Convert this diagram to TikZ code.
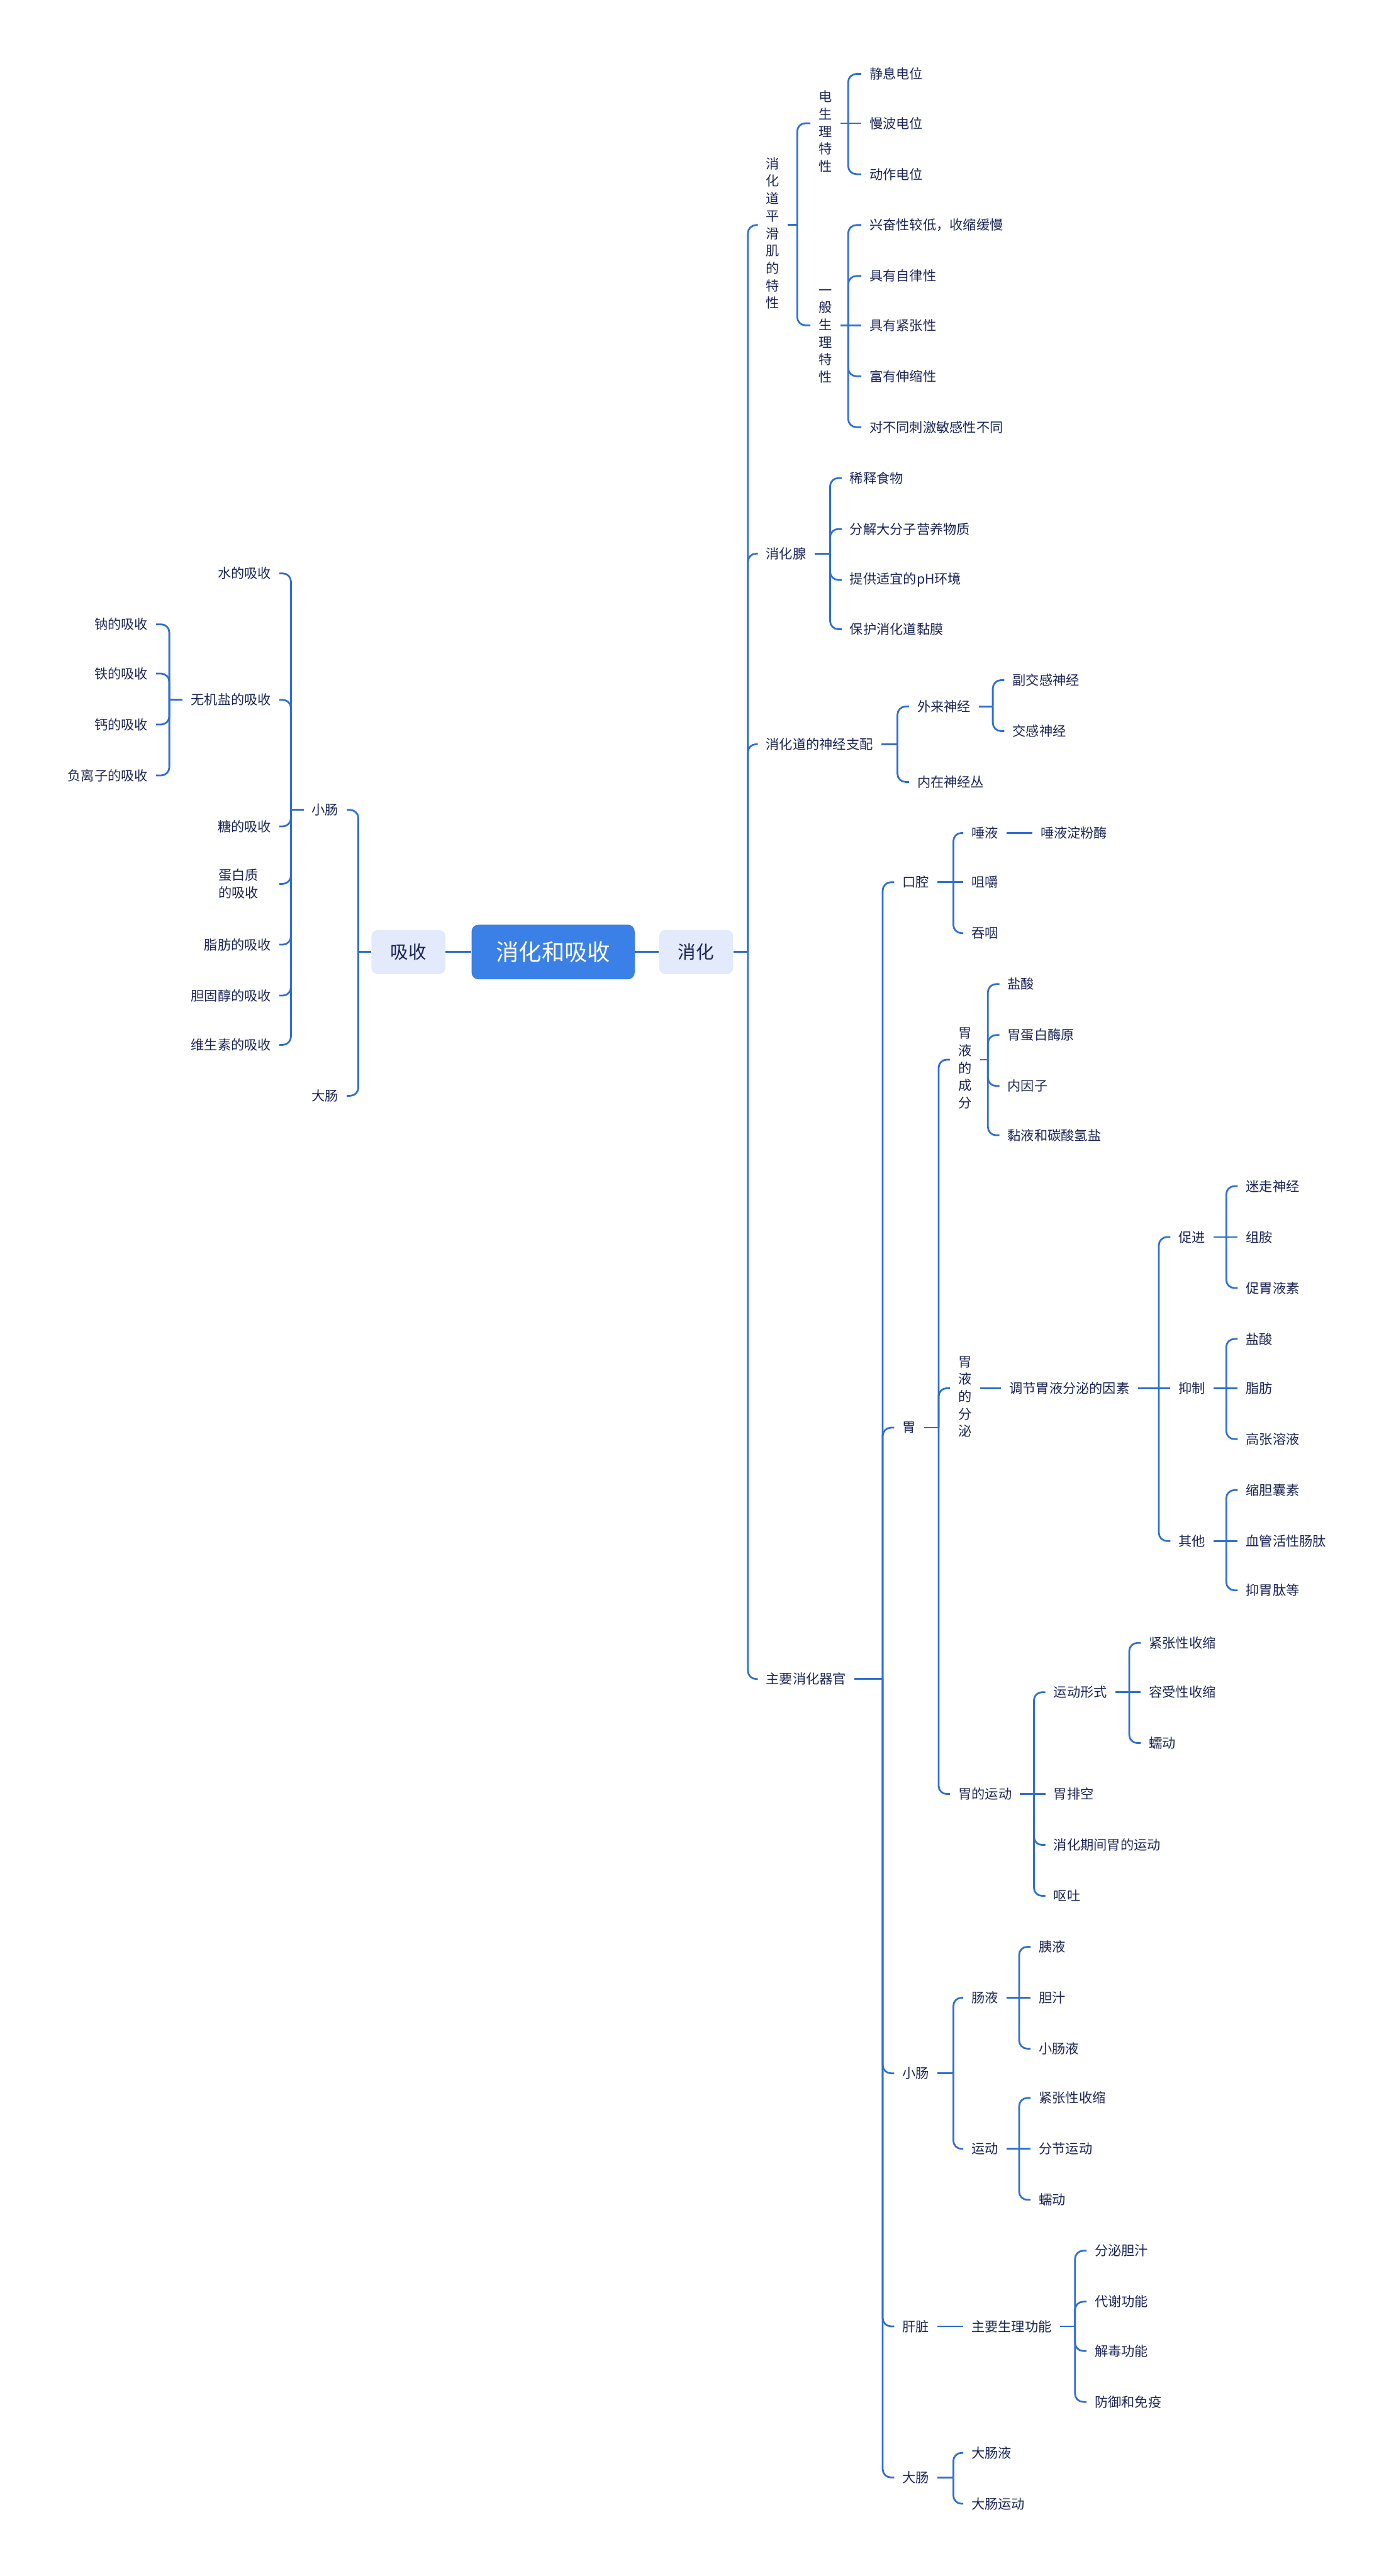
\documentclass[tikz,border=0pt]{standalone}
\usepackage{fontspec}
\setmainfont{Noto Sans CJK SC}
\definecolor{lineblue}{HTML}{2F6FD3}
\definecolor{inkblue}{HTML}{1A2456}
\definecolor{rootblue}{HTML}{3A80E6}
\definecolor{paleblue}{HTML}{E2EAFB}
\tikzset{
  branch/.style={draw=lineblue, line width=3.2pt, rounded corners=15pt},
  leaf/.style={font=\fontsize{24.5}{32}\selectfont, text=inkblue, inner xsep=15pt, inner ysep=4pt, anchor=west},
  leafl/.style={leaf, anchor=east},
  rootbox/.style={fill=rootblue, text=white, rounded corners=12pt, minimum width=299pt, minimum height=100pt, font=\fontsize{42}{50}\selectfont},
  topbox/.style={fill=paleblue, text=inkblue, rounded corners=12pt, minimum width=136pt, minimum height=81pt, font=\fontsize{33}{40}\selectfont},
}
% vertical text, set a little below its join
\newcommand{\vstack}[1]{\raisebox{-18pt}[\height][\depth]{\begin{tabular}{@{}c@{}}#1\end{tabular}}}
% fork to the right / to the left
\newcommand{\rfork}[3]{%
  \draw[branch] (#1.east) -- (#1.east -| #2,0) coordinate (j);
  \foreach \c in {#3} {\draw[branch] (j) |- (\c.west);}}
\newcommand{\lfork}[3]{%
  \draw[branch] (#1.west) -- (#1.west -| #2,0) coordinate (j);
  \foreach \c in {#3} {\draw[branch] (j) |- (\c.east);}}
\begin{document}
\begin{tikzpicture}[x=3.0153pt, y=-3.0147pt]
\useasboundingbox (0,0) rectangle (849,1568);

% centre
\node[rootbox] (root) at (336.5,579.5) {消化和吸收};
\node[topbox] (xh) at (423.5,579.5) {消化};
\node[topbox] (xs) at (248.5,579.5) {吸收};
\draw[branch] (xs) -- (root);
\draw[branch] (root) -- (xh);

% 消化
\node[leaf] (phj) at (461,137) {\vstack{消\\化\\道\\平\\滑\\肌\\的\\特\\性}};
\node[leaf] (xhx) at (461,337) {消化腺};
\node[leaf] (sjzp) at (461,453) {消化道的神经支配};
\node[leaf] (qg) at (461,1022) {主要消化器官};
\rfork{xh}{455}{phj,xhx,sjzp,qg}

% 平滑肌的特性
\node[leaf] (dsl) at (493,75) {\vstack{电\\生\\理\\特\\性}};
\node[leaf] (ybsl) at (493,198) {\vstack{一\\般\\生\\理\\特\\性}};
\rfork{phj}{485}{dsl,ybsl}
\foreach \y/\t [count=\i] in {45/静息电位,75/慢波电位,106/动作电位}
  \node[leaf] (dsl\i) at (524,\y) {\t};
\rfork{dsl}{516}{dsl1,dsl3}
\draw[branch] (dsl.east) -- (dsl2.west);
\foreach \y/\t [count=\i] in {137/兴奋性较低，收缩缓慢,168/具有自律性,198/具有紧张性,229/富有伸缩性,260/对不同刺激敏感性不同}
  \node[leaf] (yb\i) at (524,\y) {\t};
\rfork{ybsl}{516}{yb1,yb2,yb4,yb5}
\draw[branch] (ybsl.east) -- (yb3.west);

% 消化腺
\foreach \y/\t [count=\i] in {291/稀释食物,322/分解大分子营养物质,353/提供适宜的pH环境,383/保护消化道黏膜}
  \node[leaf] (xx\i) at (512,\y) {\t};
\rfork{xhx}{505}{xx1,xx2,xx3,xx4}

% 神经支配
\node[leaf] (wl) at (553,430) {外来神经};
\node[leaf] (nz) at (553,476) {内在神经丛};
\rfork{sjzp}{546}{wl,nz}
\node[leaf] (fjg) at (611,414) {副交感神经};
\node[leaf] (jg) at (611,445) {交感神经};
\rfork{wl}{604}{fjg,jg}

% 主要消化器官
\node[leaf] (kq) at (544,537) {口腔};
\node[leaf] (wei) at (544,869) {胃};
\node[leaf] (xc) at (544,1262) {小肠};
\node[leaf] (gz) at (544,1416) {肝脏};
\node[leaf] (dc) at (544,1508) {大肠};
\rfork{qg}{537}{kq,wei,xc,gz,dc}

% 口腔
\node[leaf] (ty) at (586,507) {唾液};
\node[leaf] (jj) at (586,537) {咀嚼};
\node[leaf] (ty2) at (586,568) {吞咽};
\rfork{kq}{580}{ty,ty2}
\draw[branch] (kq.east) -- (jj.west);
\node[leaf] (dfm) at (628,507) {唾液淀粉酶};
\draw[branch] (ty.east) -- (dfm.west);

% 胃
\node[leaf] (wycf) at (578,645) {\vstack{胃\\液\\的\\成\\分}};
\node[leaf] (wyfm) at (578,845) {\vstack{胃\\液\\的\\分\\泌}};
\node[leaf] (wyd) at (578,1092) {胃的运动};
\rfork{wei}{571}{wycf,wyfm,wyd}
\foreach \y/\t [count=\i] in {599/盐酸,630/胃蛋白酶原,661/内因子,691/黏液和碳酸氢盐}
  \node[leaf] (cf\i) at (608,\y) {\t};
\rfork{wycf}{601}{cf1,cf2,cf3,cf4}
\node[leaf] (tj) at (609,845) {调节胃液分泌的因素};
\draw[branch] (wyfm.east) -- (tj.west);
\node[leaf] (cj) at (712,753) {促进};
\node[leaf] (yz) at (712,845) {抑制};
\node[leaf] (qt) at (712,938) {其他};
\rfork{tj}{705}{cj,qt}
\draw[branch] (tj.east) -- (yz.west);
\foreach \y/\t [count=\i] in {722/迷走神经,753/组胺,784/促胃液素}
  \node[leaf] (cj\i) at (753,\y) {\t};
\rfork{cj}{746}{cj1,cj3}
\draw[branch] (cj.east) -- (cj2.west);
\foreach \y/\t [count=\i] in {815/盐酸,845/脂肪,876/高张溶液}
  \node[leaf] (yz\i) at (753,\y) {\t};
\rfork{yz}{746}{yz1,yz3}
\draw[branch] (yz.east) -- (yz2.west);
\foreach \y/\t [count=\i] in {907/缩胆囊素,938/血管活性肠肽,968/抑胃肽等}
  \node[leaf] (qt\i) at (753,\y) {\t};
\rfork{qt}{746}{qt1,qt3}
\draw[branch] (qt.east) -- (qt2.west);
\node[leaf] (ydxs) at (636,1030) {运动形式};
\node[leaf] (pk) at (636,1092) {胃排空};
\node[leaf] (xhq) at (636,1123) {消化期间胃的运动};
\node[leaf] (ot) at (636,1154) {呕吐};
\rfork{wyd}{629}{ydxs,xhq,ot}
\draw[branch] (wyd.east) -- (pk.west);
\foreach \y/\t [count=\i] in {1000/紧张性收缩,1030/容受性收缩,1061/蠕动}
  \node[leaf] (yx\i) at (694,\y) {\t};
\rfork{ydxs}{687}{yx1,yx3}
\draw[branch] (ydxs.east) -- (yx2.west);

% 小肠
\node[leaf] (cy) at (586,1216) {肠液};
\node[leaf] (yd) at (586,1308) {运动};
\rfork{xc}{580}{cy,yd}
\foreach \y/\t [count=\i] in {1185/胰液,1216/胆汁,1247/小肠液}
  \node[leaf] (cy\i) at (627,\y) {\t};
\rfork{cy}{620}{cy1,cy3}
\draw[branch] (cy.east) -- (cy2.west);
\foreach \y/\t [count=\i] in {1277/紧张性收缩,1308/分节运动,1339/蠕动}
  \node[leaf] (yd\i) at (627,\y) {\t};
\rfork{yd}{620}{yd1,yd3}
\draw[branch] (yd.east) -- (yd2.west);

% 肝脏
\node[leaf] (zygn) at (586,1416) {主要生理功能};
\draw[branch] (gz.east) -- (zygn.west);
\foreach \y/\t [count=\i] in {1370/分泌胆汁,1401/代谢功能,1431/解毒功能,1462/防御和免疫}
  \node[leaf] (gn\i) at (661,\y) {\t};
\rfork{zygn}{654}{gn1,gn2,gn3,gn4}

% 大肠
\node[leaf] (dc1) at (586,1493) {大肠液};
\node[leaf] (dc2) at (586,1524) {大肠运动};
\rfork{dc}{580}{dc1,dc2}

% 吸收
\node[leafl] (lxc) at (211,493) {小肠};
\node[leafl] (ldc) at (211,667) {大肠};
\lfork{xs}{218}{lxc,ldc}
\node[leafl] (sx) at (170,349) {水的吸收};
\node[leafl] (wjy) at (170,426) {无机盐的吸收};
\node[leafl] (tang) at (170,503) {糖的吸收};
\node[leafl, align=center, inner xsep=38pt] (dbz) at (170,538) {蛋白质\\的吸收};
\node[leafl] (zf) at (170,575) {脂肪的吸收};
\node[leafl] (dgc) at (170,606) {胆固醇的吸收};
\node[leafl] (wss) at (170,636) {维生素的吸收};
\lfork{lxc}{177}{sx,wjy,tang,dbz,zf,dgc,wss}
\foreach \y/\t [count=\i] in {380/钠的吸收,410/铁的吸收,441/钙的吸收,472/负离子的吸收}
  \node[leafl] (wj\i) at (95,\y) {\t};
\lfork{wjy}{103}{wj1,wj2,wj3,wj4}
\end{tikzpicture}
\end{document}
